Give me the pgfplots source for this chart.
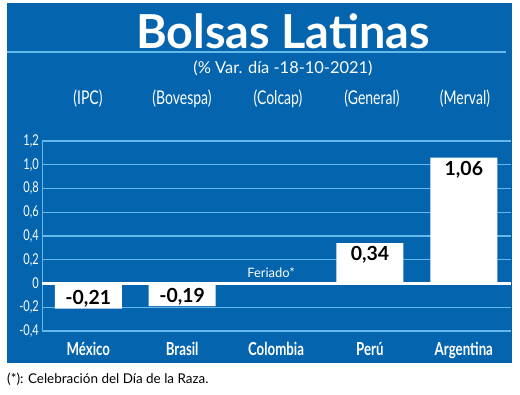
\documentclass[border=0pt]{standalone}
\usepackage{fontspec}
\setmainfont{Lato}
\newfontfamily\cond[FakeStretch=0.74]{Lato}
\usepackage{pgfplots}
\pgfplotsset{compat=1.18}
\definecolor{panel}{RGB}{4,100,173}
\definecolor{gridc}{RGB}{100,185,235}
\begin{document}
\begin{tikzpicture}[x=1bp,y=1bp]
\path[use as bounding box] (0,0) rectangle (520,394);
\fill[panel] (7,31) rectangle (512,391);
\draw[gridc, line width=1.5bp] (7,342) -- (506,342);
\node[anchor=base, white, font=\bfseries\fontsize{47}{50}\selectfont, inner sep=0] at (283,346) {Bolsas Latinas};
\node[anchor=base, white, font=\fontsize{16.5}{18}\selectfont, inner sep=0] at (283,321) {(\% Var. día -18-10-2021)};
\foreach \x/\t in {88/IPC,182/Bovespa,278/Colcap,372/General,465/Merval}
  \node[anchor=base, white, font=\cond\fontsize{19}{21}\selectfont, inner sep=0] at (\x,290) {(\t)};
\begin{axis}[
  at={(45,53)}, anchor=south west,
  scale only axis, width=469bp, height=190bp,
  xmin=-0.49, xmax=4.505, ymin=-0.4, ymax=1.2,
  ybar, bar width=67bp,
  axis x line*=bottom, axis y line*=left,
  axis line style={gridc, line width=1.2bp, -},
  major tick length=0pt,
  ymajorgrids, grid style={gridc, line width=1.2bp},
  ytick={-0.4,-0.2,0,0.2,0.4,0.6,0.8,1.0,1.2},
  yticklabels={{-0,4},{-0,2},0,{0,2},{0,4},{0,6},{0,8},{1,0},{1,2}},
  yticklabel style={font=\cond\fontsize{15}{16}\selectfont, white},
  extra y ticks={0}, extra y tick labels={},
  extra y tick style={grid style={white, line width=2.2bp}},
  xtick={0,1,2,3,4},
  xticklabels={México,Brasil,Colombia,Perú,Argentina},
  xticklabel style={font=\cond\bfseries\fontsize{18}{20}\selectfont, white, anchor=base, yshift=-24bp},
  clip=false,
]
\addplot[fill=white, draw=none, bar shift=0pt,
  point meta=explicit symbolic, nodes near coords,
  nodes near coords align={anchor=south},
  every node near coord/.append style={black, font=\bfseries\fontsize{19.5}{20}\selectfont, inner sep=1bp}]
  coordinates {(0,-0.21) [{-0,21}] (1,-0.19) [{-0,19}]};
\addplot[fill=white, draw=none, bar shift=0pt,
  point meta=explicit symbolic, nodes near coords,
  nodes near coords align={anchor=north},
  every node near coord/.append style={black, font=\bfseries\fontsize{19.5}{20}\selectfont, inner sep=1bp, yshift=-2bp}]
  coordinates {(3,0.34) [{0,34}] (4,1.06) [{1,06}]};
\node[anchor=base, white, font=\fontsize{13}{14}\selectfont, inner sep=0, xshift=-5bp, yshift=6bp] at (axis cs:2,0) {Feriado*};
\end{axis}
\node[anchor=base west, inner sep=0, black, font=\fontsize{13.5}{15}\selectfont] at (7,11) {(*): Celebración del Día de la Raza.};
\end{tikzpicture}
\end{document}
